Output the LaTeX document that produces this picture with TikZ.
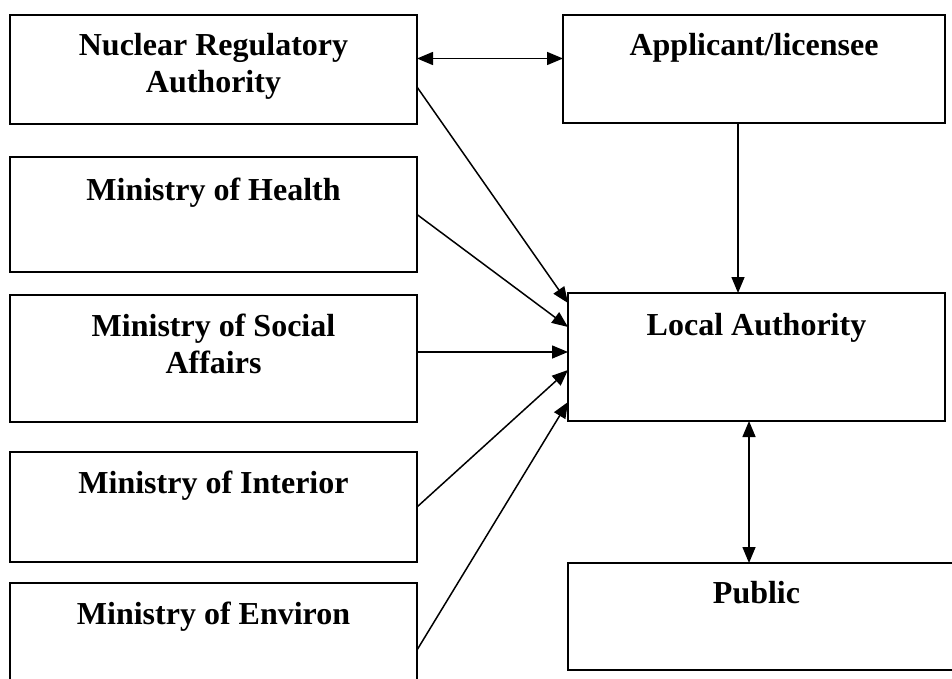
\documentclass[tikz,border=0pt]{standalone}
\usepackage{fontspec}
\setmainfont{Liberation Serif}
\usetikzlibrary{arrows.meta}
\begin{document}
\begin{tikzpicture}[x=1pt,y=-1pt,
  box/.style={draw, line width=1.7pt, rectangle, inner sep=0pt, outer sep=0pt},
  lbl/.style={anchor=north, inner sep=0pt, align=center,
              font=\fontsize{32}{37}\selectfont\bfseries},
  tip/.tip={Triangle[length=16pt,width=13pt]},
  conn/.style={line width=1.5pt, -tip},
  twoway/.style={line width=1.5pt, tip-tip}]
\useasboundingbox (0,0) rectangle (952,679);
\clip (0,0) rectangle (952,679);
\fill[white] (0,0) rectangle (952,679);

% left column of bodies
\node[box, minimum width=407pt, minimum height=109pt] (nra) at (213.5,69.5) {};
\node[box, minimum width=407pt, minimum height=115pt] (health) at (213.5,214.5) {};
\node[box, minimum width=407pt, minimum height=127pt] (social) at (213.5,358.5) {};
\node[box, minimum width=407pt, minimum height=110pt] (interior) at (213.5,507) {};
\node[box, minimum width=407pt, minimum height=117pt] (environ) at (213.5,641.5) {};

% right column
\node[box, minimum width=382pt, minimum height=108pt] (app) at (754,69) {};
\node[box, minimum width=377pt, minimum height=128pt] (local) at (756.5,357) {};
\node[box, minimum width=412pt, minimum height=107pt] (public) at (774,616.5) {};

% labels, set near the top of each box
\node[lbl] (nraT) at ([yshift=-18.5pt]nra.north) {Nuclear Regulatory\\Authority};
\node[lbl] (healthT) at ([yshift=-20.5pt]health.north) {Ministry of Health};
\node[lbl] (socialT) at ([yshift=-18.5pt]social.north) {Ministry of Social\\Affairs};
\node[lbl] (interiorT) at ([yshift=-18.5pt]interior.north) {Ministry of Interior};
\node[lbl] (environT) at ([yshift=-18.5pt]environ.north) {Ministry of Environ};
\node[lbl] (appT) at ([yshift=-18.5pt]app.north) {Applicant/licensee};
\node[lbl] (localT) at ([yshift=-20.5pt]local.north) {Local Authority};
\node[lbl] (publicT) at ([yshift=-18.5pt]public.north-|local.north) {Public};

% connector end points
\coordinate (topL) at ([yshift=11pt]nra.east);
\coordinate (nraS) at ([yshift=-17.5pt]nra.east);
\coordinate (environS) at ([yshift=-8.5pt]environ.east);
\coordinate (inA) at ([yshift=54pt]local.west);
\coordinate (inB) at ([yshift=30pt]local.west);
\coordinate (inC) at ([yshift=5pt]local.west);
\coordinate (inD) at ([yshift=-13pt]local.west);
\coordinate (inE) at ([yshift=-45pt]local.west);
\coordinate (appS) at ([xshift=-16pt]app.south);
\coordinate (localS) at ([xshift=-7.5pt]local.south);

% connectors
\draw[twoway] (topL) -- (topL -| app.west);
\draw[conn] (nraS) -- (inA);
\draw[conn] (health.east) -- (inB);
\draw[conn] (inC -| social.east) -- (inC);
\draw[conn] (interior.east) -- (inD);
\draw[conn] (environS) -- (inE);
\draw[conn] (appS) -- (appS |- local.north);
\draw[twoway] (localS) -- (localS |- public.north);
\end{tikzpicture}
\end{document}
